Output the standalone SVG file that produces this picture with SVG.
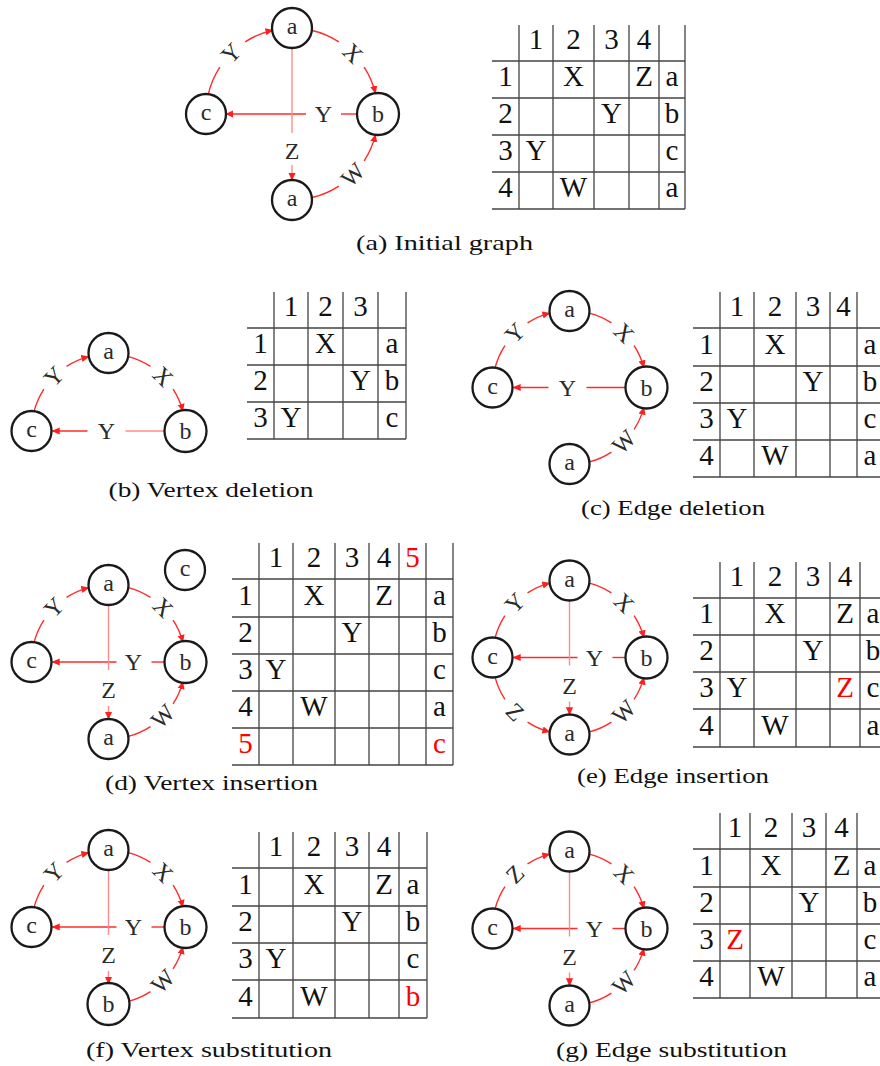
<svg xmlns="http://www.w3.org/2000/svg" width="880" height="1066" viewBox="0 0 880 1066">
<defs>
<marker id="arr" viewBox="0 0 10 10" refX="9" refY="5" markerWidth="8" markerHeight="8" markerUnits="userSpaceOnUse" orient="auto"><path d="M0,0.5 L10,5 L0,9.5 z" fill="#ff1f1f"/></marker>
<style>
.node circle{fill:#fff;stroke:#1a1a1a;stroke-width:2.3}
.node text{font-family:'Liberation Serif','Times New Roman',serif;font-size:24px;fill:#2b2b2b;text-anchor:middle}
.e{fill:none;stroke:#ff2a2a;stroke-width:1.4}
.ea{marker-end:url(#arr)}
.ev{fill:none;stroke:#ff8c8c;stroke-width:1.4}
.lbl{font-family:'Liberation Serif','Times New Roman',serif;font-size:24px;fill:#2b2b2b;text-anchor:middle;dominant-baseline:central}
.tl{stroke:#444;stroke-width:1.3;fill:none}
.tt{font-family:'Liberation Serif','Times New Roman',serif;font-size:29px;fill:#111;text-anchor:middle}
.red{fill:#f00}
.cap{font-family:'Liberation Serif','Times New Roman',serif;font-size:21px;fill:#111;text-anchor:middle}
</style>
</defs>
<rect width="880" height="1066" fill="#fff"/>

<!-- ========== Panel (a) ========== -->
<g id="a-connectors">
<path class="e" d="M208.2,94.65 A86,86 0 0 1 219.87,67.16"/>
<path class="e ea" d="M245.16,41.87 A86,86 0 0 1 272.65,30.2"/>
<path class="e" d="M311.35,30.2 A86,86 0 0 1 338.84,41.87"/>
<path class="e ea" d="M364.13,67.16 A86,86 0 0 1 375.45,93.19"/>
<path class="e" d="M311.35,197.8 A86,86 0 0 0 338.84,186.13"/>
<path class="e ea" d="M364.13,160.84 A86,86 0 0 0 375.45,134.81"/>
<path class="e" d="M357,114 H341"/>
<path class="e ea" d="M306,114 H226"/>
<path class="ev" d="M292,48 V133"/>
<path class="ev ea" d="M292,165 V180"/>
<text class="lbl" transform="translate(231.19,53.19) rotate(-45)">Y</text>
<text class="lbl" transform="translate(352.81,53.19) rotate(45)">X</text>
<text class="lbl" transform="translate(352.81,174.81) rotate(-45)">W</text>
<text class="lbl" x="323.5" y="114">Y</text>
<text class="lbl" x="292" y="151">Z</text>
</g>
<g id="a-n1" class="node"><circle cx="292" cy="28" r="20"/><text x="292" y="34">a</text></g>
<g id="a-n2" class="node"><circle cx="378" cy="114" r="21"/><text x="378" y="122">b</text></g>
<g id="a-n3" class="node"><circle cx="206" cy="114" r="20"/><text x="206" y="120">c</text></g>
<g id="a-n4" class="node"><circle cx="292" cy="200" r="20"/><text x="292" y="206">a</text></g>
<g id="a-table">
<path class="tl" d="M519,25V209 M553,25V209 M594,25V209 M629,25V209 M659,25V209 M685,25V209 M492,61H685 M492,98H685 M492,135H685 M492,172H685 M492,209H685"/>
<g class="tt">
<text x="536" y="49">1</text><text x="573.5" y="49">2</text><text x="611.5" y="49">3</text><text x="644" y="49">4</text>
<text x="505.5" y="86">1</text><text x="573.5" y="86">X</text><text x="644" y="86">Z</text><text x="672" y="86">a</text>
<text x="505.5" y="123">2</text><text x="611.5" y="123">Y</text><text x="672" y="123">b</text>
<text x="505.5" y="160">3</text><text x="536" y="160">Y</text><text x="672" y="160">c</text>
<text x="505.5" y="197">4</text><text x="573.5" y="197">W</text><text x="672" y="197">a</text>
</g>
</g>
<text class="cap" x="444.5" y="250" textLength="177" lengthAdjust="spacingAndGlyphs">(a) Initial graph</text>

<!-- ========== Panel (b) ========== -->
<g id="b-connectors">
<path class="e" d="M34.12,411.07 A77,77 0 0 1 43.92,389.06"/>
<path class="e ea" d="M66.56,366.42 A77,77 0 0 1 88.57,356.62"/>
<path class="e" d="M128.43,356.62 A77,77 0 0 1 150.44,366.42"/>
<path class="e ea" d="M173.08,389.06 A77,77 0 0 1 182.88,411.07"/>
<path class="ev" d="M164.5,431 H125.5"/>
<path class="e ea" d="M87.5,431 H52.5"/>
<text class="lbl" transform="translate(54.05,376.55) rotate(-45)">Y</text>
<text class="lbl" transform="translate(162.95,376.55) rotate(45)">X</text>
<text class="lbl" x="106.5" y="431">Y</text>
</g>
<g id="b-n1" class="node"><circle cx="108.5" cy="353" r="20"/><text x="108.5" y="359">a</text></g>
<g id="b-n2" class="node"><circle cx="185.5" cy="431" r="21"/><text x="185.5" y="439">b</text></g>
<g id="b-n3" class="node"><circle cx="31.5" cy="431" r="20"/><text x="31.5" y="437">c</text></g>
<g id="b-table">
<path class="tl" d="M274,292V439 M308,292V439 M343,292V439 M378,292V439 M406,292V439 M247,328H406 M247,365H406 M247,402H406 M247,439H406"/>
<g class="tt">
<text x="291" y="316">1</text><text x="325.5" y="316">2</text><text x="360.5" y="316">3</text>
<text x="260.5" y="353">1</text><text x="325.5" y="353">X</text><text x="392" y="353">a</text>
<text x="260.5" y="390">2</text><text x="360.5" y="390">Y</text><text x="392" y="390">b</text>
<text x="260.5" y="427">3</text><text x="291" y="427">Y</text><text x="392" y="427">c</text>
</g>
</g>
<text class="cap" x="211" y="497" textLength="205" lengthAdjust="spacingAndGlyphs">(b) Vertex deletion</text>

<!-- ========== Panel (c) ========== -->
<g id="c-connectors">
<path class="e" d="M495.12,367.57 A77,77 0 0 1 504.92,345.56"/>
<path class="e ea" d="M527.56,322.92 A77,77 0 0 1 549.57,313.12"/>
<path class="e" d="M589.43,313.12 A77,77 0 0 1 611.44,322.92"/>
<path class="e ea" d="M634.08,345.56 A77,77 0 0 1 643.88,367.57"/>
<path class="e" d="M589.43,461.88 A77,77 0 0 0 611.44,452.08"/>
<path class="e ea" d="M634.08,429.44 A77,77 0 0 0 643.88,407.43"/>
<path class="e" d="M625.5,387.5 H586.5"/>
<path class="e ea" d="M548.5,387.5 H513.5"/>
<text class="lbl" transform="translate(515.05,333.05) rotate(-45)">Y</text>
<text class="lbl" transform="translate(623.95,333.05) rotate(45)">X</text>
<text class="lbl" transform="translate(623.95,441.95) rotate(-45)">W</text>
<text class="lbl" x="567.5" y="387.5">Y</text>
</g>
<g id="c-n1" class="node"><circle cx="569.5" cy="311" r="20"/><text x="569.5" y="317">a</text></g>
<g id="c-n2" class="node"><circle cx="646.5" cy="387.5" r="21"/><text x="646.5" y="395.5">b</text></g>
<g id="c-n3" class="node"><circle cx="492.5" cy="387.5" r="20"/><text x="492.5" y="393.5">c</text></g>
<g id="c-n4" class="node"><circle cx="569.5" cy="464" r="20"/><text x="569.5" y="470">a</text></g>
<g id="c-table">
<path class="tl" d="M720,292V477 M754,292V477 M796,292V477 M830,292V477 M857,292V477 M883,292V477 M693,328H883 M693,366H883 M693,403H883 M693,440H883 M693,477H883"/>
<g class="tt">
<text x="737" y="316">1</text><text x="775" y="316">2</text><text x="813" y="316">3</text><text x="843.5" y="316">4</text>
<text x="706.5" y="354">1</text><text x="775" y="354">X</text><text x="870" y="354">a</text>
<text x="706.5" y="391">2</text><text x="813" y="391">Y</text><text x="870" y="391">b</text>
<text x="706.5" y="428">3</text><text x="737" y="428">Y</text><text x="870" y="428">c</text>
<text x="706.5" y="465">4</text><text x="775" y="465">W</text><text x="870" y="465">a</text>
</g>
</g>
<text class="cap" x="673" y="515" textLength="184" lengthAdjust="spacingAndGlyphs">(c) Edge deletion</text>

<!-- ========== Panel (d) ========== -->
<g id="d-connectors">
<path class="e" d="M34.12,642.07 A77,77 0 0 1 43.92,620.06"/>
<path class="e ea" d="M66.56,597.42 A77,77 0 0 1 88.57,587.62"/>
<path class="e" d="M128.43,587.62 A77,77 0 0 1 150.44,597.42"/>
<path class="e ea" d="M173.08,620.06 A77,77 0 0 1 182.88,642.07"/>
<path class="e" d="M128.43,736.38 A77,77 0 0 0 150.44,726.58"/>
<path class="e ea" d="M173.08,703.94 A77,77 0 0 0 182.88,681.93"/>
<path class="e" d="M164.5,662 H151.5"/>
<path class="e ea" d="M116.5,662 H52.5"/>
<path class="ev" d="M108.5,605 V670"/>
<path class="ev ea" d="M108.5,706 V719"/>
<text class="lbl" transform="translate(54.05,607.55) rotate(-45)">Y</text>
<text class="lbl" transform="translate(162.95,607.55) rotate(45)">X</text>
<text class="lbl" transform="translate(162.95,716.45) rotate(-45)">W</text>
<text class="lbl" x="133.5" y="662">Y</text>
<text class="lbl" x="108.5" y="690">Z</text>
</g>
<g id="d-n1" class="node"><circle cx="108.5" cy="585" r="20"/><text x="108.5" y="591">a</text></g>
<g id="d-n2" class="node"><circle cx="185.5" cy="662" r="21"/><text x="185.5" y="670">b</text></g>
<g id="d-n3" class="node"><circle cx="31.5" cy="662" r="20"/><text x="31.5" y="668">c</text></g>
<g id="d-n4" class="node"><circle cx="108.5" cy="739" r="20"/><text x="108.5" y="745">a</text></g>
<g id="d-n5" class="node"><circle cx="185" cy="570" r="20"/><text x="185" y="576">c</text></g>
<g id="d-table">
<path class="tl" d="M259,543V765 M293,543V765 M335,543V765 M369,543V765 M399,543V765 M426,543V765 M453,543V765 M232,579H453 M232,617H453 M232,654H453 M232,691H453 M232,728H453 M232,765H453"/>
<g class="tt">
<text x="276" y="567">1</text><text x="314" y="567">2</text><text x="352" y="567">3</text><text x="384" y="567">4</text><text class="red" x="412.5" y="567">5</text>
<text x="245.5" y="605">1</text><text x="314" y="605">X</text><text x="384" y="605">Z</text><text x="439.5" y="605">a</text>
<text x="245.5" y="642">2</text><text x="352" y="642">Y</text><text x="439.5" y="642">b</text>
<text x="245.5" y="679">3</text><text x="276" y="679">Y</text><text x="439.5" y="679">c</text>
<text x="245.5" y="716">4</text><text x="314" y="716">W</text><text x="439.5" y="716">a</text>
<text class="red" x="245.5" y="753">5</text><text class="red" x="439.5" y="753">c</text>
</g>
</g>
<text class="cap" x="211.5" y="790" textLength="213" lengthAdjust="spacingAndGlyphs">(d) Vertex insertion</text>

<!-- ========== Panel (e) ========== -->
<g id="e-connectors">
<path class="e" d="M495.12,637.57 A77,77 0 0 1 504.92,615.56"/>
<path class="e ea" d="M527.56,592.92 A77,77 0 0 1 549.57,583.12"/>
<path class="e" d="M589.43,583.12 A77,77 0 0 1 611.44,592.92"/>
<path class="e ea" d="M634.08,615.56 A77,77 0 0 1 643.88,637.57"/>
<path class="e" d="M589.43,731.88 A77,77 0 0 0 611.44,722.08"/>
<path class="e ea" d="M634.08,699.44 A77,77 0 0 0 643.88,677.43"/>
<path class="e" d="M495.12,677.43 A77,77 0 0 0 504.92,699.44"/>
<path class="e ea" d="M527.56,722.08 A77,77 0 0 0 549.57,731.88"/>
<path class="e" d="M625.5,657.5 H612.5"/>
<path class="e ea" d="M577.5,657.5 H513.5"/>
<path class="ev" d="M569.5,600.5 V665.5"/>
<path class="ev ea" d="M569.5,701.5 V714.5"/>
<text class="lbl" transform="translate(515.05,603.05) rotate(-45)">Y</text>
<text class="lbl" transform="translate(623.95,603.05) rotate(45)">X</text>
<text class="lbl" transform="translate(623.95,711.95) rotate(-45)">W</text>
<text class="lbl" transform="translate(515.05,711.95) rotate(45)">Z</text>
<text class="lbl" x="594.5" y="657.5">Y</text>
<text class="lbl" x="569.5" y="685.5">Z</text>
</g>
<g id="e-n1" class="node"><circle cx="569.5" cy="580.5" r="20"/><text x="569.5" y="586.5">a</text></g>
<g id="e-n2" class="node"><circle cx="646.5" cy="657.5" r="21"/><text x="646.5" y="665.5">b</text></g>
<g id="e-n3" class="node"><circle cx="492.5" cy="657.5" r="20"/><text x="492.5" y="663.5">c</text></g>
<g id="e-n4" class="node"><circle cx="569.5" cy="734.5" r="20"/><text x="569.5" y="740.5">a</text></g>
<g id="e-table">
<path class="tl" d="M720,562V747 M754,562V747 M796,562V747 M830,562V747 M860,562V747 M886,562V747 M693,598H886 M693,635H886 M693,672H886 M693,709H886 M693,747H886"/>
<g class="tt">
<text x="737" y="586">1</text><text x="775" y="586">2</text><text x="813" y="586">3</text><text x="845" y="586">4</text>
<text x="706.5" y="623">1</text><text x="775" y="623">X</text><text x="845" y="623">Z</text><text x="873" y="623">a</text>
<text x="706.5" y="660">2</text><text x="813" y="660">Y</text><text x="873" y="660">b</text>
<text x="706.5" y="697">3</text><text x="737" y="697">Y</text><text class="red" x="845" y="697">Z</text><text x="873" y="697">c</text>
<text x="706.5" y="735">4</text><text x="775" y="735">W</text><text x="873" y="735">a</text>
</g>
</g>
<text class="cap" x="673" y="783" textLength="192" lengthAdjust="spacingAndGlyphs">(e) Edge insertion</text>

<!-- ========== Panel (f) ========== -->
<g id="f-connectors">
<path class="e" d="M34.12,907.07 A77,77 0 0 1 43.92,885.06"/>
<path class="e ea" d="M66.56,862.42 A77,77 0 0 1 88.57,852.62"/>
<path class="e" d="M128.43,852.62 A77,77 0 0 1 150.44,862.42"/>
<path class="e ea" d="M173.08,885.06 A77,77 0 0 1 182.88,907.07"/>
<path class="e" d="M128.43,1001.38 A77,77 0 0 0 150.44,991.58"/>
<path class="e ea" d="M173.08,968.94 A77,77 0 0 0 182.88,946.93"/>
<path class="e" d="M164.5,927 H151.5"/>
<path class="e ea" d="M116.5,927 H52.5"/>
<path class="ev" d="M108.5,870 V935"/>
<path class="ev ea" d="M108.5,971 V984"/>
<text class="lbl" transform="translate(54.05,872.55) rotate(-45)">Y</text>
<text class="lbl" transform="translate(162.95,872.55) rotate(45)">X</text>
<text class="lbl" transform="translate(162.95,981.45) rotate(-45)">W</text>
<text class="lbl" x="133.5" y="927">Y</text>
<text class="lbl" x="108.5" y="955">Z</text>
</g>
<g id="f-n1" class="node"><circle cx="108.5" cy="850" r="20"/><text x="108.5" y="856">a</text></g>
<g id="f-n2" class="node"><circle cx="185.5" cy="927" r="21"/><text x="185.5" y="935">b</text></g>
<g id="f-n3" class="node"><circle cx="31.5" cy="927" r="20"/><text x="31.5" y="933">c</text></g>
<g id="f-n4" class="node"><circle cx="108.5" cy="1004" r="21"/><text x="108.5" y="1012">b</text></g>
<g id="f-table">
<path class="tl" d="M259,832V1018 M293,832V1018 M335,832V1018 M369,832V1018 M399,832V1018 M427,832V1018 M232,868H427 M232,906H427 M232,943H427 M232,980H427 M232,1018H427"/>
<g class="tt">
<text x="276" y="856">1</text><text x="314" y="856">2</text><text x="352" y="856">3</text><text x="384" y="856">4</text>
<text x="245.5" y="894">1</text><text x="314" y="894">X</text><text x="384" y="894">Z</text><text x="413" y="894">a</text>
<text x="245.5" y="931">2</text><text x="352" y="931">Y</text><text x="413" y="931">b</text>
<text x="245.5" y="968">3</text><text x="276" y="968">Y</text><text x="413" y="968">c</text>
<text x="245.5" y="1006">4</text><text x="314" y="1006">W</text><text class="red" x="413" y="1006">b</text>
</g>
</g>
<text class="cap" x="209" y="1057" textLength="246" lengthAdjust="spacingAndGlyphs">(f) Vertex substitution</text>

<!-- ========== Panel (g) ========== -->
<g id="g-connectors">
<path class="e" d="M495.12,908.57 A77,77 0 0 1 504.92,886.56"/>
<path class="e ea" d="M527.56,863.92 A77,77 0 0 1 549.57,854.12"/>
<path class="e" d="M589.43,854.12 A77,77 0 0 1 611.44,863.92"/>
<path class="e ea" d="M634.08,886.56 A77,77 0 0 1 643.88,908.57"/>
<path class="e" d="M589.43,1002.88 A77,77 0 0 0 611.44,993.08"/>
<path class="e ea" d="M634.08,970.44 A77,77 0 0 0 643.88,948.43"/>
<path class="e" d="M625.5,928.5 H612.5"/>
<path class="e ea" d="M577.5,928.5 H513.5"/>
<path class="ev" d="M569.5,871.5 V936.5"/>
<path class="ev ea" d="M569.5,972.5 V985.5"/>
<text class="lbl" transform="translate(515.05,874.05) rotate(-45)">Z</text>
<text class="lbl" transform="translate(623.95,874.05) rotate(45)">X</text>
<text class="lbl" transform="translate(623.95,982.95) rotate(-45)">W</text>
<text class="lbl" x="594.5" y="928.5">Y</text>
<text class="lbl" x="569.5" y="956.5">Z</text>
</g>
<g id="g-n1" class="node"><circle cx="569.5" cy="851.5" r="20"/><text x="569.5" y="857.5">a</text></g>
<g id="g-n2" class="node"><circle cx="646.5" cy="928.5" r="21"/><text x="646.5" y="936.5">b</text></g>
<g id="g-n3" class="node"><circle cx="492.5" cy="928.5" r="20"/><text x="492.5" y="934.5">c</text></g>
<g id="g-n4" class="node"><circle cx="569.5" cy="1005.5" r="20"/><text x="569.5" y="1011.5">a</text></g>
<g id="g-table">
<path class="tl" d="M720,813V998 M750,813V998 M792,813V998 M826,813V998 M857,813V998 M883,813V998 M693,849H883 M693,887H883 M693,924H883 M693,961H883 M693,998H883"/>
<g class="tt">
<text x="735" y="837">1</text><text x="771" y="837">2</text><text x="809" y="837">3</text><text x="841.5" y="837">4</text>
<text x="706.5" y="875">1</text><text x="771" y="875">X</text><text x="841.5" y="875">Z</text><text x="870" y="875">a</text>
<text x="706.5" y="912">2</text><text x="809" y="912">Y</text><text x="870" y="912">b</text>
<text x="706.5" y="949">3</text><text class="red" x="735" y="949">Z</text><text x="870" y="949">c</text>
<text x="706.5" y="986">4</text><text x="771" y="986">W</text><text x="870" y="986">a</text>
</g>
</g>
<text class="cap" x="671.5" y="1057" textLength="231" lengthAdjust="spacingAndGlyphs">(g) Edge substitution</text>
</svg>
